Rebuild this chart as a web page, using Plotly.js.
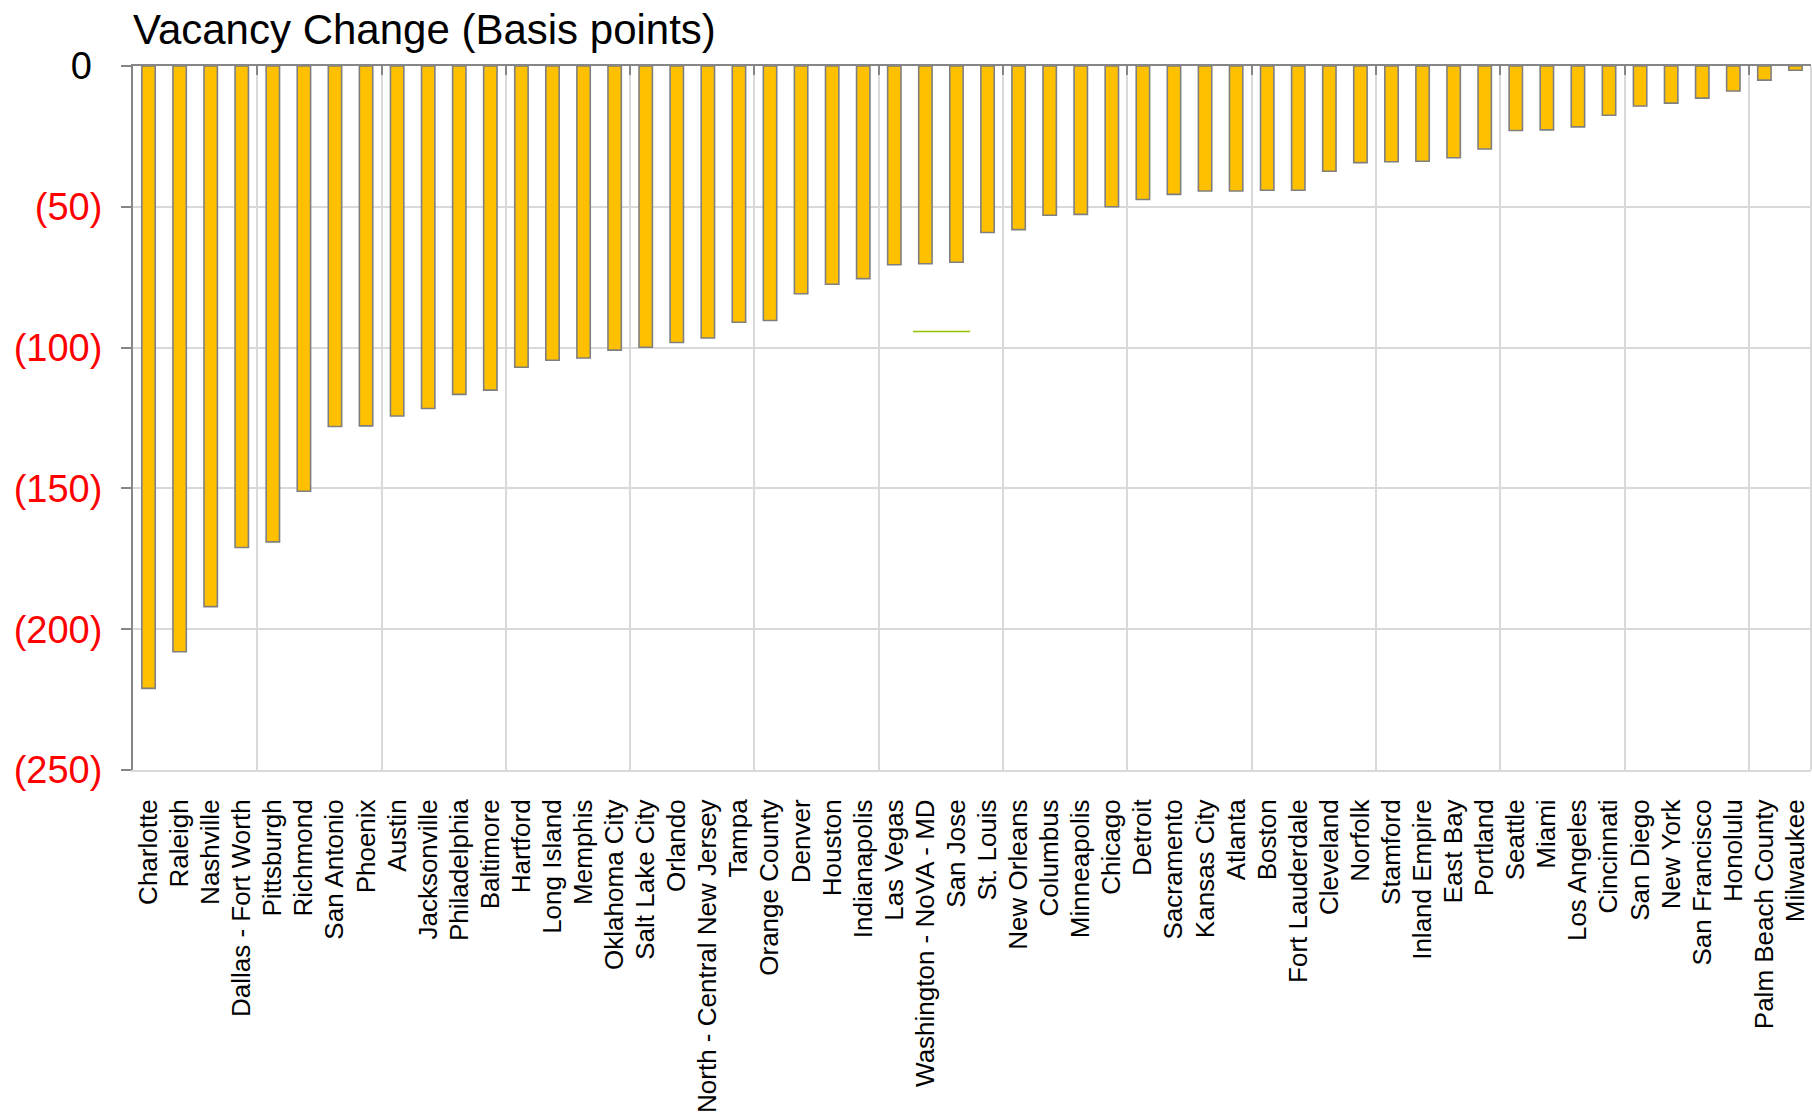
<!DOCTYPE html>
<html>
<head>
<meta charset="utf-8">
<script src="https://cdn.plot.ly/plotly-3.0.1.min.js"></script>
<style>
  html, body { margin: 0; padding: 0; background: #ffffff; }
  #chart { width: 1812px; height: 1115px; }
</style>
</head>
<body>
<div id="chart"></div>
<script>
// ---- Data ----
const markets = [
  "Charlotte", "Raleigh", "Nashville", "Dallas - Fort Worth", "Pittsburgh", "Richmond",
  "San Antonio", "Phoenix", "Austin", "Jacksonville", "Philadelphia", "Baltimore",
  "Hartford", "Long Island", "Memphis", "Oklahoma City", "Salt Lake City", "Orlando",
  "North - Central New Jersey", "Tampa", "Orange County", "Denver", "Houston", "Indianapolis",
  "Las Vegas", "Washington - NoVA - MD", "San Jose", "St. Louis", "New Orleans", "Columbus",
  "Minneapolis", "Chicago", "Detroit", "Sacramento", "Kansas City", "Atlanta",
  "Boston", "Fort Lauderdale", "Cleveland", "Norfolk", "Stamford", "Inland Empire",
  "East Bay", "Portland", "Seattle", "Miami", "Los Angeles", "Cincinnati",
  "San Diego", "New York", "San Francisco", "Honolulu", "Palm Beach County", "Milwaukee"
];

const vacancyChangeBps = [
  -221, -208, -192, -171, -169, -151,
  -128, -127.8, -124.3, -121.6, -116.6, -115.1,
  -107, -104.5, -103.7, -100.9, -99.9, -98.2,
  -96.6, -91, -90.4, -80.9, -77.5, -75.5,
  -70.6, -70.2, -69.7, -59.1, -58.1, -53,
  -52.7, -50, -47.4, -45.6, -44.4, -44.4,
  -44.1, -44.1, -37.4, -34.3, -34, -33.8,
  -32.6, -29.5, -22.9, -22.7, -21.6, -17.5,
  -14.2, -13.2, -11.4, -8.9, -5, -1.5
];

// stray short line visible in the original chart
const strayLineX = [24.6, 26.44];
const strayLineY = [-94.3, -94.3];

const yTickVals = [0, -50, -100, -150, -200, -250];
const yTickText = ['<span style="color:#000000">0\u00A0</span>', "(50)", "(100)", "(150)", "(200)", "(250)"];

const gridEvery = 4;

// ---- Chart ----
const gridVals = [];
for (let i = gridEvery; i < markets.length; i += gridEvery) gridVals.push(i - 0.5);

const traces = [
  {
    type: "bar",
    x: markets,
    y: vacancyChangeBps,
    marker: { color: "#FFC000", line: { color: "#7F7F7F", width: 1.6 } },
    hoverinfo: "skip",
    showlegend: false
  },
  {
    type: "scatter",
    mode: "lines",
    x: strayLineX,
    y: strayLineY,
    xaxis: "x2",
    yaxis: "y",
    line: { color: "#92C400", width: 1.5 },
    hoverinfo: "skip",
    showlegend: false
  }
];

const layout = {
  width: 1812,
  height: 1115,
  margin: { l: 133, r: 1, t: 66, b: 345, pad: 0 },
  paper_bgcolor: "#ffffff",
  plot_bgcolor: "#ffffff",
  font: { family: "Liberation Sans, Arial, sans-serif", color: "#000000" },
  showlegend: false,
  bargap: 0.57,
  title: {
    text: "Vacancy Change (Basis points)",
    font: { size: 42, color: "#000000", family: "Liberation Sans, Arial, sans-serif" },
    xref: "paper", x: 0, xanchor: "left",
    yref: "paper", y: 1, yanchor: "bottom",
    pad: { b: 22, l: 0 }
  },
  xaxis: {
    type: "category",
    range: [-0.5, markets.length - 0.5],
    tickangle: -90,
    tickfont: { size: 26, color: "#000000" },
    ticks: "",
    ticklabelstandoff: 17,
    showgrid: false,
    showline: true,
    linecolor: "#D9D9D9",
    linewidth: 2,
    zeroline: false,
    automargin: false,
    fixedrange: true
  },
  xaxis2: {
    overlaying: "x",
    anchor: "y",
    side: "top",
    range: [-0.5, markets.length - 0.5],
    tickmode: "array",
    tickvals: gridVals,
    showticklabels: false,
    ticks: "inside",
    ticklen: 9,
    tickwidth: 2,
    tickcolor: "#868686",
    showgrid: true,
    gridcolor: "#D9D9D9",
    gridwidth: 2,
    showline: true,
    linecolor: "#868686",
    linewidth: 2,
    zeroline: false,
    fixedrange: true
  },
  yaxis: {
    range: [-250, 0],
    tickmode: "array",
    tickvals: yTickVals,
    ticktext: yTickText,
    tickfont: { size: 38, color: "#FF0000" },
    ticks: "outside",
    ticklen: 10,
    tickwidth: 2,
    tickcolor: "#868686",
    ticklabelstandoff: 11,
    showline: true,
    linecolor: "#868686",
    linewidth: 2,
    showgrid: true,
    gridcolor: "#D9D9D9",
    gridwidth: 2,
    zeroline: false,
    automargin: false,
    fixedrange: true
  },
  shapes: [
    {
      type: "line", xref: "paper", yref: "paper",
      x0: 1, x1: 1, y0: 0, y1: 1,
      line: { color: "#D9D9D9", width: 2 },
      layer: "above"
    }
  ]
};

Plotly.newPlot("chart", traces, layout, { displayModeBar: false, staticPlot: true });
</script>
</body>
</html>
